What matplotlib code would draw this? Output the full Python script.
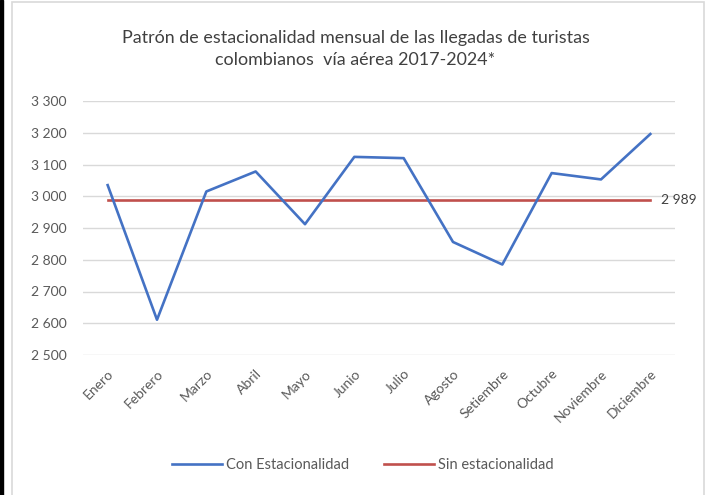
import matplotlib
matplotlib.use("Agg")
import matplotlib.pyplot as plt
from matplotlib.patches import Rectangle
from matplotlib.lines import Line2D

months = ["Enero", "Febrero", "Marzo", "Abril", "Mayo", "Junio", "Julio",
          "Agosto", "Setiembre", "Octubre", "Noviembre", "Diciembre"]
con_estacionalidad = [3035, 2611, 3015, 3078, 2912, 3124, 3120, 2856, 2785, 3073, 3053, 3196]
sin_estacionalidad = [2989] * 12
y_ticks = [2500, 2600, 2700, 2800, 2900, 3000, 3100, 3200, 3300]
title = "Patrón de estacionalidad mensual de las llegadas de turistas\ncolombianos  vía aérea 2017-2024*"

plt.rcParams['font.family'] = ['Lato', 'DejaVu Sans']

W, H = 711, 495
fig = plt.figure(figsize=(W / 100, H / 100), dpi=100)

# outer frame
fig.patches.append(Rectangle((0, 0), 3 / W, 1, transform=fig.transFigure, color='black', zorder=0))
fig.patches.append(Rectangle((12 / W, -0.01), (704 - 12) / W, 1 - 1.5 / H + 0.01,
                             transform=fig.transFigure, fill=False, edgecolor='#d9d9d9', linewidth=1.2, zorder=0))

ax = fig.add_axes([83 / W, 1 - 355 / H, (675 - 83) / W, (355 - 101) / H])
x = list(range(len(months)))
ax.plot(x, con_estacionalidad, color='#4472c4', linewidth=1.9, label='Con Estacionalidad', zorder=3)
ax.plot(x, sin_estacionalidad, color='#c0504d', linewidth=1.9, label='Sin estacionalidad', zorder=2)

ax.set_xlim(-0.5, len(months) - 0.5)
ax.set_ylim(2500, 3300)
ax.set_yticks(y_ticks)
ax.set_yticklabels([f"{v:,}".replace(",", " ") for v in y_ticks])
ax.yaxis.grid(True, color='#d9d9d9', linewidth=1)
ax.set_axisbelow(True)
for s in ax.spines.values():
    s.set_visible(False)
ax.tick_params(axis='both', length=0, colors='#595959', labelsize=10)
ax.tick_params(axis='y', pad=12)

ax.set_xticks(x)
ax.set_xticklabels(months, rotation=45, ha='right', va='top', rotation_mode='anchor')
ax.tick_params(axis='x', pad=9)

ax.text(len(months) - 1 + 0.22, sin_estacionalidad[-1], f"{sin_estacionalidad[-1]:,}".replace(",", " "),
        va='center', ha='left', fontsize=10, color='#404040')

fig.text(0.5, 1 - 49 / H, title, ha='center', va='center', fontsize=12.9, color='#404040',
         linespacing=1.4)

handles = [Line2D([], [], color='#4472c4', linewidth=1.9),
           Line2D([], [], color='#c0504d', linewidth=1.9)]
fig.legend(handles, ['Con Estacionalidad', 'Sin estacionalidad'], loc='center',
           bbox_to_anchor=(363 / W, 1 - 465 / H), ncol=2, frameon=False, fontsize=10.5,
           labelcolor='#595959', handlelength=3.4, columnspacing=2.4, handletextpad=0.3)

fig.savefig("out.png", dpi=100, facecolor='white')
